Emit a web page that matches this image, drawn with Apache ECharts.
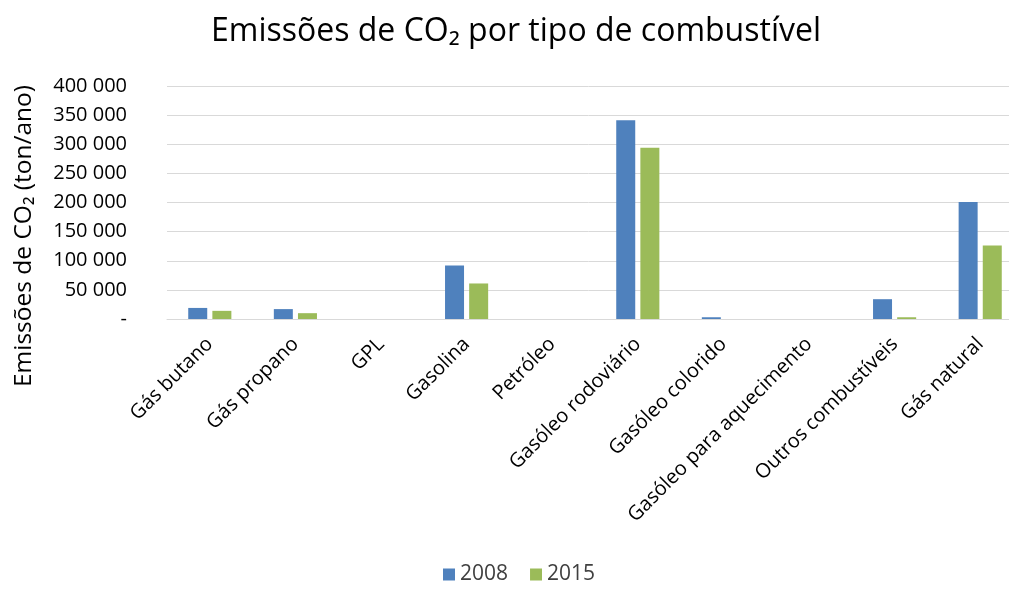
<!DOCTYPE html>
<html>
<head>
<meta charset="utf-8">
<script src="https://cdn.jsdelivr.net/npm/echarts@6/dist/echarts.min.js"></script>
<style>
html,body{margin:0;padding:0;background:#fff;}
#chart{width:1009px;height:590px;}
</style>
</head>
<body>
<div id="chart"></div>
<script>
const categories = ['Gás butano','Gás propano','GPL','Gasolina','Petróleo','Gasóleo rodoviário','Gasóleo colorido','Gasóleo para aquecimento','Outros combustíveis','Gás natural'];
const values2008 = [19000, 17000, 0, 92000, 0, 341000, 3000, 0, 34000, 201000];
const values2015 = [14000, 10000, 0, 61000, 0, 294000, 0, 0, 3000, 126000];
const seriesNames = ['2008', '2015'];
const titleText = 'Emissões de CO₂ por tipo de combustível';
const yTitle = 'Emissões de CO₂ (ton/ano)';

const FONT = '"Open Sans", "Noto Sans", sans-serif';
function fmt(v){
  if (v === 0) return '-';
  return String(v).replace(/\B(?=(\d{3})+(?!\d))/g, ' ');
}
const chart = echarts.init(document.getElementById('chart'));
chart.setOption({
  animation: false,
  backgroundColor: '#fff',
  title: {
    text: titleText,
    left: 511, top: 11, textAlign: 'center',
    textStyle: {fontFamily: FONT, fontSize: 32, fontWeight: 'normal', color: '#000'}
  },
  legend: {
    data: seriesNames,
    bottom: 0, left: 438,
    itemWidth: 12, itemHeight: 12, itemGap: 22,
    icon: 'rect',
    textStyle: {fontFamily: FONT, fontSize: 21, color: '#404040'}
  },
  graphic: [{
    type: 'text',
    x: 24, y: 236,
    rotation: Math.PI / 2,
    style: {text: yTitle, fontFamily: FONT, fontSize: 24.5, fill: '#000', align: 'center', verticalAlign: 'middle'}
  }],
  grid: {left: 167, right: -14, top: 86, bottom: 271, outerBoundsMode: 'none', containLabel: false},
  xAxis: {
    type: 'category',
    data: categories,
    axisLine: {show: true, lineStyle: {color: '#d9d9d9'}},
    axisTick: {show: false},
    axisLabel: {rotate: 45, interval: 0, margin: 22, fontFamily: FONT, fontSize: 20, color: '#000'}
  },
  yAxis: {
    type: 'value',
    min: 0, max: 400000, interval: 50000,
    axisLine: {show: false},
    axisTick: {show: false},
    splitLine: {lineStyle: {color: '#d9d9d9', width: 1}},
    axisLabel: {formatter: fmt, margin: 40, fontFamily: FONT, fontSize: 20, color: '#000'}
  },
  series: [
    {name: seriesNames[0], type: 'bar', data: values2008, barWidth: 19, barGap: '27%', itemStyle: {color: '#4F81BD'}},
    {name: seriesNames[1], type: 'bar', data: values2015, barWidth: 19, barGap: '27%', itemStyle: {color: '#9BBB59'}}
  ]
});
</script>
</body>
</html>
